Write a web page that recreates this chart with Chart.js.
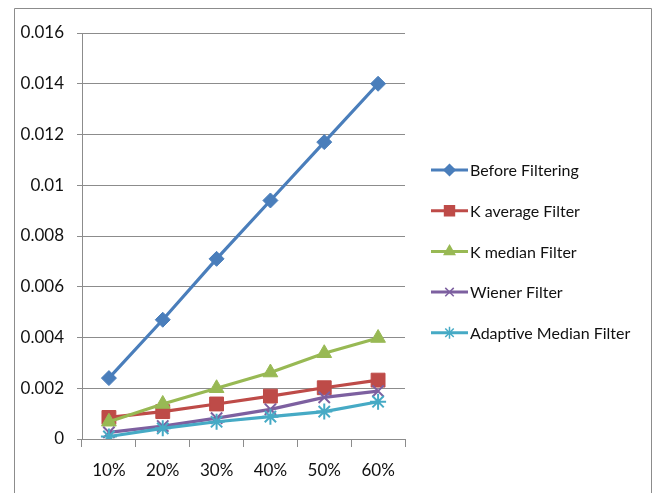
<!DOCTYPE html>
<html>
<head>
<meta charset="utf-8">
<script src="https://cdn.jsdelivr.net/npm/chart.js@4.4.1/dist/chart.umd.min.js"></script>
<style>
  html, body { margin: 0; padding: 0; background: #fff; }
  #wrap { position: relative; width: 654px; height: 493px; }
</style>
</head>
<body>
<div id="wrap"><canvas id="c" width="654" height="493"></canvas></div>
<script>
// Noise levels along the x axis
const categories = ['10%', '20%', '30%', '40%', '50%', '60%'];

// Error measured for each filter at each noise level
const beforeFiltering = [0.0024, 0.0047, 0.0071, 0.0094, 0.0117, 0.0140];
const kAverageFilter  = [0.00085, 0.00108, 0.00138, 0.00169, 0.00202, 0.00232];
const kMedianFilter   = [0.00068, 0.00138, 0.00200, 0.00262, 0.00338, 0.00398];
const wienerFilter    = [0.00026, 0.00051, 0.00082, 0.00117, 0.00164, 0.00189];
const adaptiveMedian  = [0.00010, 0.00042, 0.00068, 0.00088, 0.00108, 0.00147];

const seriesNames = ['Before Filtering', 'K average Filter', 'K median Filter', 'Wiener Filter', 'Adaptive Median Filter'];
const yTickLabels = ['0', '0.002', '0.004', '0.006', '0.008', '0.01', '0.012', '0.014', '0.016'];

const FONT = "Lato, 'Open Sans', sans-serif";

const styles = [
  { color: '#4A7EBB', point: 'rectRot',  radius: 7.5, legendRadius: 5.5 },
  { color: '#BE4B48', point: 'rect',     radius: 9.8, legendRadius: 7 },
  { color: '#98B954', point: 'triangle', radius: 8.5, legendRadius: 6 },
  { color: '#7D60A0', point: 'crossRot', radius: 8,   legendRadius: 6 },
  { color: '#46AAC5', point: 'star',     radius: 8,   legendRadius: 6 }
];
const seriesData = [beforeFiltering, kAverageFilter, kMedianFilter, wienerFilter, adaptiveMedian];

const datasets = seriesData.map((d, i) => ({
  label: seriesNames[i],
  data: d,
  borderColor: styles[i].color,
  backgroundColor: styles[i].color,
  borderWidth: 3.2,
  pointStyle: styles[i].point,
  pointRadius: styles[i].radius,
  pointBorderWidth: (styles[i].point === 'crossRot' || styles[i].point === 'star') ? 2 : 1,
  pointBackgroundColor: styles[i].color,
  pointBorderColor: styles[i].color,
  order: seriesData.length - i,
  tension: 0
}));

// Outer frame around the figure
const framePlugin = {
  id: 'frame',
  beforeDraw(chart) {
    const ctx = chart.ctx;
    ctx.save();
    ctx.strokeStyle = '#8C8C8C';
    ctx.lineWidth = 1;
    ctx.beginPath();
    ctx.moveTo(14.5, 500);
    ctx.lineTo(14.5, 8.5);
    ctx.lineTo(651.5, 8.5);
    ctx.lineTo(651.5, 500);
    ctx.stroke();
    ctx.restore();
  }
};

// Legend with a short line sample and the series marker on it
const lineLegend = {
  id: 'lineLegend',
  afterDraw(chart) {
    const ctx = chart.ctx;
    const x0 = 431, x1 = 468, top = 170, step = 40.7;
    ctx.save();
    chart.data.datasets.forEach((ds, i) => {
      const y = top + i * step;
      ctx.strokeStyle = ds.borderColor;
      ctx.fillStyle = ds.borderColor;
      ctx.lineWidth = 3;
      ctx.beginPath();
      ctx.moveTo(x0, y);
      ctx.lineTo(x1, y);
      ctx.stroke();
      ctx.lineWidth = 1.5;
      Chart.helpers.drawPoint(ctx, {
        pointStyle: styles[i].point,
        radius: styles[i].legendRadius,
        rotation: 0,
        borderWidth: 1.5
      }, (x0 + x1) / 2, y);
      ctx.fillStyle = '#111';
      ctx.font = '16px ' + FONT;
      ctx.textBaseline = 'middle';
      ctx.textAlign = 'left';
      ctx.fillText(ds.label, 470, y + 1);
    });
    ctx.restore();
  }
};

new Chart(document.getElementById('c'), {
  type: 'line',
  data: { labels: categories, datasets },
  options: {
    responsive: false,
    animation: false,
    devicePixelRatio: 1,
    layout: { padding: { left: 0, right: 249, top: 33, bottom: 0 } },
    plugins: { legend: { display: false }, tooltip: { enabled: false } },
    scales: {
      x: {
        type: 'category',
        offset: true,
        afterFit(scale) { scale.height = 54; },
        grid: {
          offset: true,
          drawOnChartArea: false,
          drawTicks: true,
          tickLength: 8,
          color: '#8C8C8C'
        },
        border: { color: '#8C8C8C', width: 1 },
        ticks: {
          padding: 13,
          color: '#111',
          font: { family: FONT, size: 17 },
          maxRotation: 0
        }
      },
      y: {
        min: 0,
        max: 0.016,
        afterFit(scale) { scale.width = 82; },
        grid: {
          color: '#8C8C8C',
          drawTicks: true,
          tickLength: 5
        },
        border: { color: '#8C8C8C', width: 1 },
        ticks: {
          stepSize: 0.002,
          padding: 13,
          color: '#111',
          font: { family: FONT, size: 17 },
          callback: (v, idx) => yTickLabels[idx]
        }
      }
    }
  },
  plugins: [framePlugin, lineLegend]
});
</script>
</body>
</html>
